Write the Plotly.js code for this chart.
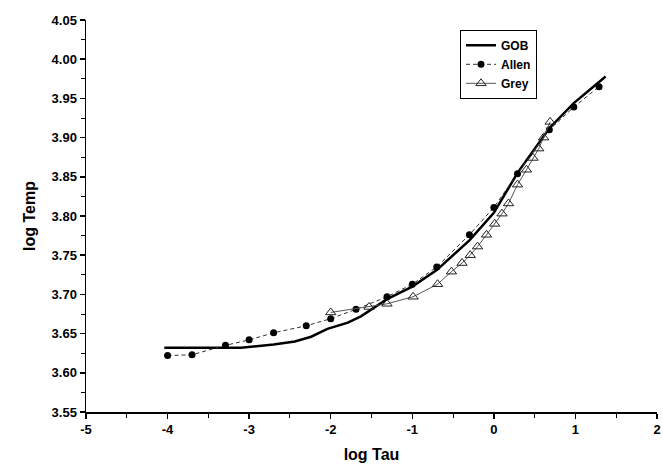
<!DOCTYPE html>
<html><head><meta charset="utf-8">
<script src="https://cdn.plot.ly/plotly-3.0.1.min.js"></script>
<style>body{margin:0;background:#fff}</style>
</head><body><div id="chart" style="width:663px;height:468px"></div>
<script>
const gobX = [-4.04, -3.5, -3.1, -2.7, -2.44, -2.24, -2.04, -1.79, -1.63, -1.31, -1.0, -0.7, -0.3, 0.0, 0.29, 0.68, 0.98, 1.37];
const gobY = [3.632, 3.632, 3.632, 3.636, 3.640, 3.646, 3.656, 3.664, 3.672, 3.694, 3.710, 3.731, 3.769, 3.804, 3.855, 3.912, 3.944, 3.978];
const allenX = [-4.0, -3.70, -3.29, -3.0, -2.70, -2.30, -2.0, -1.69, -1.31, -1.0, -0.70, -0.30, 0.0, 0.29, 0.68, 0.98, 1.29];
const allenY = [3.622, 3.623, 3.635, 3.642, 3.651, 3.660, 3.669, 3.681, 3.697, 3.713, 3.735, 3.776, 3.811, 3.854, 3.910, 3.939, 3.965];
const greyX = [-2.0, -1.53, -1.31, -0.99, -0.69, -0.52, -0.39, -0.29, -0.20, -0.09, 0.01, 0.10, 0.18, 0.29, 0.40, 0.48, 0.55, 0.61, 0.69];
const greyY = [3.677, 3.684, 3.688, 3.697, 3.713, 3.729, 3.740, 3.750, 3.761, 3.776, 3.790, 3.803, 3.816, 3.840, 3.859, 3.874, 3.886, 3.900, 3.920];
const xTickVals = [-5, -4, -3, -2, -1, 0, 1, 2];
const xTickText = ['-5', '-4', '-3', '-2', '-1', '0', '1', '2'];

const fontFam = '"Liberation Sans", Arial, sans-serif';
const traces = [
  {x: gobX, y: gobY, name: 'GOB', mode: 'lines', line: {color: '#000', width: 2.5}},
  {x: allenX, y: allenY, name: 'Allen', mode: 'lines+markers',
   line: {color: '#333', width: 1, dash: '4px,3px'},
   marker: {symbol: 'circle', size: 7, color: '#000'}},
  {x: greyX, y: greyY, name: 'Grey', mode: 'lines+markers',
   line: {color: '#555', width: 1},
   marker: {symbol: 'triangle-up-open', size: 9, color: '#222', line: {width: 1}}}
];
const layout = {
  width: 663, height: 468,
  margin: {l: 86, r: 6, t: 20, b: 56},
  paper_bgcolor: '#fff', plot_bgcolor: '#fff',
  font: {family: fontFam, color: '#000', size: 13, weight: 'bold'},
  showlegend: true,
  legend: {x: 0.655, y: 0.975, xanchor: 'left', yanchor: 'top',
    bordercolor: '#000', borderwidth: 1, bgcolor: '#fff',
    font: {family: fontFam, size: 12, weight: 'bold'}, tracegroupgap: 0, itemwidth: 30},
  xaxis: {range: [-5, 2], tickmode: 'array', tickvals: xTickVals, ticktext: xTickText,
    showgrid: false, zeroline: false, automargin: false, ticklabeloverflow: 'allow',
    showline: true, linecolor: '#000', linewidth: 1.5,
    ticks: 'outside', ticklen: 5, tickwidth: 1.5, tickcolor: '#000',
    minor: {dtick: 0.5, tick0: 0, ticks: 'outside', ticklen: 4, tickcolor: '#000', tickwidth: 1},
    tickfont: {size: 13, weight: 'bold', family: fontFam},
    title: {text: 'log Tau', font: {size: 16, weight: 'bold', family: fontFam}, standoff: 12}},
  yaxis: {range: [3.55, 4.05], dtick: 0.05, tick0: 3.55, tickformat: '.2f', showgrid: false, zeroline: false,
    automargin: false,
    showline: true, linecolor: '#000', linewidth: 1.5,
    ticks: 'outside', ticklen: 5, tickwidth: 1.5, tickcolor: '#000',
    minor: {dtick: 0.025, ticks: 'outside', ticklen: 4, tickcolor: '#000', tickwidth: 1},
    tickfont: {size: 13, weight: 'bold', family: fontFam},
    title: {text: 'log Temp', font: {size: 16, weight: 'bold', family: fontFam}, standoff: 12}}
};
Plotly.newPlot('chart', traces, layout, {displayModeBar: false, staticPlot: true});
</script></body></html>
